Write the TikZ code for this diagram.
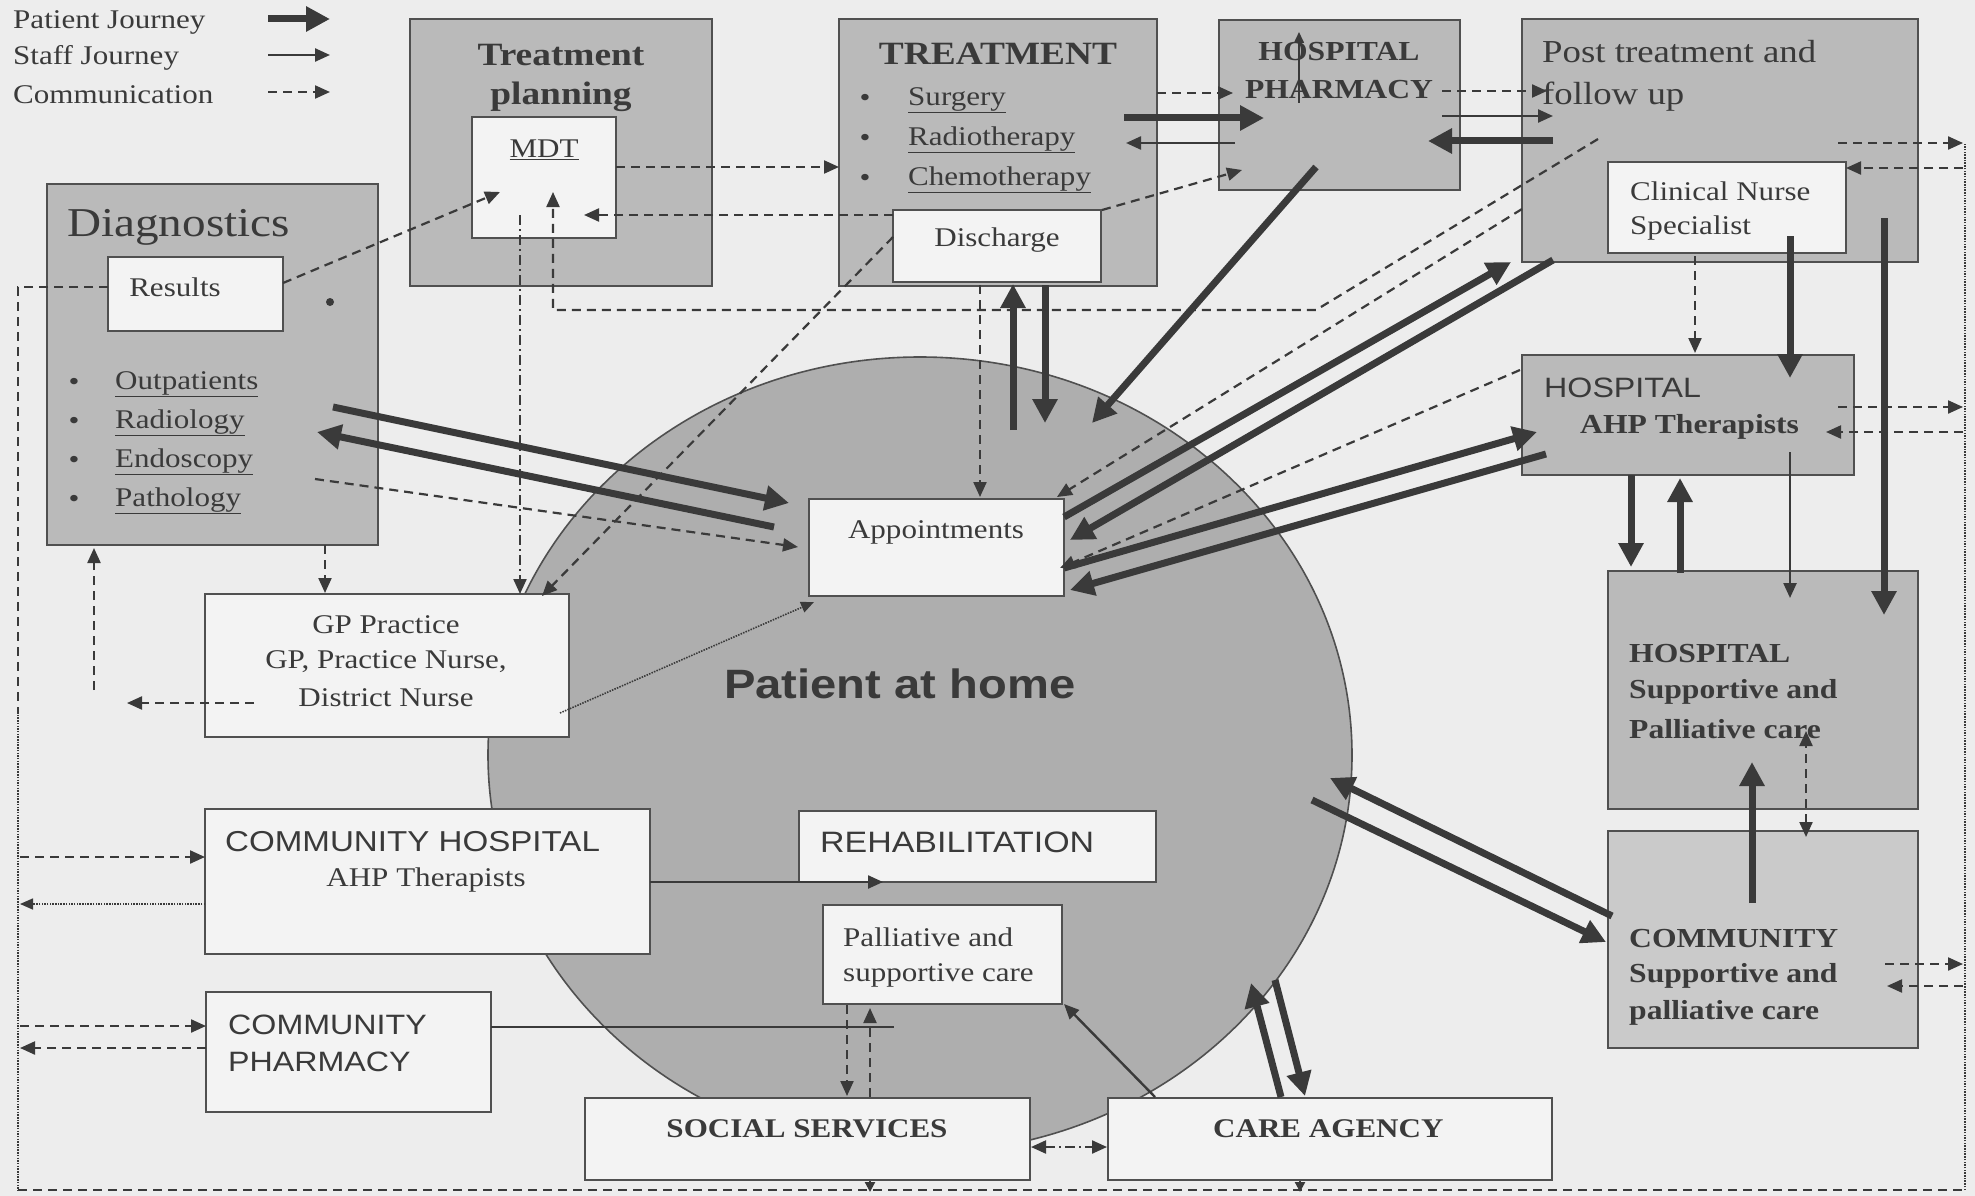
\documentclass[tikz,border=0pt]{standalone}
\usepackage{fontspec}
\setmainfont{Liberation Serif}[FakeStretch=1.15]
\setsansfont{Liberation Sans}[FakeStretch=1.15]
\usetikzlibrary{arrows.meta,shapes.geometric}
\definecolor{paper}{RGB}{237,237,237}
\definecolor{boxgray}{RGB}{186,186,186}
\definecolor{boxlight}{RGB}{202,202,202}
\definecolor{boxwhite}{RGB}{243,243,243}
\definecolor{homegray}{RGB}{174,174,174}
\definecolor{ink}{RGB}{58,58,58}
\definecolor{edge}{RGB}{80,80,80}
\newcommand\setfs[1]{\fontsize{#1}{#1}\selectfont}
\begin{document}
\begin{tikzpicture}[x=1pt,y=-1pt,
  bx/.style={draw=edge, line width=2pt, inner sep=0, outer sep=0, anchor=north west},
  gbx/.style={bx, fill=boxgray},
  lbx/.style={bx, fill=boxlight},
  wbx/.style={bx, fill=boxwhite},
  txt/.style={inner sep=0, text=ink, font=\setfs{27}},
  lt/.style={txt, anchor=west},
  pjrny/.style={draw=ink, line width=7pt, -{Triangle[length=24pt,width=24pt]}},
  sjrny/.style={draw=ink, line width=2.4pt, -{Triangle[length=15pt,width=13pt]}},
  sline/.style={draw=ink, line width=2.4pt},
  comm/.style={draw=ink, line width=2.2pt, dash pattern=on 9pt off 6pt, -{Triangle[length=15pt,width=13pt]}},
  commline/.style={draw=ink, line width=2.2pt, dash pattern=on 9pt off 6pt},
  commboth/.style={comm, {Triangle[length=15pt,width=13pt]}-{Triangle[length=15pt,width=13pt]}},
  commdd/.style={comm, dash pattern=on 10pt off 4pt on 2pt off 4pt},
  commddboth/.style={commboth, dash pattern=on 10pt off 4pt on 2pt off 4pt},
  dotarr/.style={draw=ink, line width=1.6pt, dash pattern=on 1.5pt off 1.2pt, -{Triangle[length=13pt,width=11pt]}},
  dotline/.style={draw=ink, line width=1.6pt, dash pattern=on 1.5pt off 1.2pt}]

% page
\fill[paper] (0,0) rectangle (1975,1196);
\useasboundingbox (0,0) rectangle (1975,1196);

% patient at home
\node[ellipse, draw=edge, line width=1.6pt, fill=homegray, minimum width=864pt,
      minimum height=796pt, inner sep=0, outer sep=0] (home) at (920,755) {};

% boxes
\node[gbx, minimum width=302pt, minimum height=267pt] (tp)   at (410,19) {};
\node[wbx, minimum width=144pt, minimum height=121pt] (mdt)  at (472,117) {};
\node[gbx, minimum width=318pt, minimum height=267pt] (tr)   at (839,19) {};
\node[wbx, minimum width=208pt, minimum height=72pt]  (dis)  at (893,210) {};
\node[gbx, minimum width=241pt, minimum height=170pt] (ph)   at (1219,20) {};
\node[gbx, minimum width=396pt, minimum height=243pt] (pt)   at (1522,19) {};
\node[wbx, minimum width=238pt, minimum height=91pt]  (cns)  at (1608,162) {};
\node[gbx, minimum width=331pt, minimum height=361pt] (diag) at (47,184) {};
\node[wbx, minimum width=175pt, minimum height=74pt]  (res)  at (108,257) {};
\node[wbx, minimum width=364pt, minimum height=143pt] (gp)   at (205,594) {};
\node[gbx, minimum width=332pt, minimum height=120pt] (ahp)  at (1522,355) {};
\node[gbx, minimum width=310pt, minimum height=238pt] (hsp)  at (1608,571) {};
\node[lbx, minimum width=310pt, minimum height=217pt] (csp)  at (1608,831) {};
\node[wbx, minimum width=255pt, minimum height=97pt]  (app)  at (809,499) {};
\node[wbx, minimum width=445pt, minimum height=145pt] (ch)   at (205,809) {};
\node[wbx, minimum width=285pt, minimum height=120pt] (cph)  at (206,992) {};
\node[wbx, minimum width=357pt, minimum height=71pt]  (reh)  at (799,811) {};
\node[wbx, minimum width=239pt, minimum height=99pt]  (pal)  at (823,905) {};
\node[wbx, minimum width=445pt, minimum height=82pt]  (ss)   at (585,1098) {};
\node[wbx, minimum width=444pt, minimum height=82pt]  (ca)   at (1108,1098) {};

% legend
\node[lt] (lgA) at (13,22) {Patient Journey};
\node[lt] (lgB) at (13,58) {Staff Journey};
\node[lt] (lgC) at (13,95) {Communication};
\coordinate (lg1a) at (268,19);  \coordinate (lg1b) at (330,19);
\coordinate (lg2a) at (268,55);  \coordinate (lg2b) at (330,55);
\coordinate (lg3a) at (268,92);  \coordinate (lg3b) at (330,92);

% texts
\node[txt, font=\setfs{32.5}\bfseries] (tpA) at (561,55) {Treatment};
\node[txt, font=\setfs{32.5}\bfseries] (tpB) at (561,97) {planning};
\node[txt] (mdtT) at (544,150) {\underline{MDT}};
\node[txt, font=\setfs{32.5}\bfseries] (trT) at (998,54) {TREATMENT};
\node[txt] (trD1) at (865,100) {\textbullet};
\node[txt] (trD2) at (865,140) {\textbullet};
\node[txt] (trD3) at (865,180) {\textbullet};
\node[lt] (trL1) at (908,100) {\underline{Surgery}};
\node[lt] (trL2) at (908,140) {\underline{Radiotherapy}};
\node[lt] (trL3) at (908,180) {\underline{Chemotherapy}};
\node[txt] (disT) at (997,240) {Discharge};
\node[txt, font=\setfs{27.5}\bfseries] (phA) at (1339,52) {HOSPITAL};
\node[txt, font=\setfs{27.5}\bfseries] (phB) at (1339,90) {PHARMACY};
\node[lt, font=\setfs{32}] (ptA) at (1542,52) {Post treatment and};
\node[lt, font=\setfs{32}] (ptB) at (1542,97) {follow up};
\node[lt] (cnsA) at (1630,191) {Clinical Nurse};
\node[lt] (cnsB) at (1630,228) {Specialist};
\node[lt, font=\setfs{41}] (diagT) at (67,227) {Diagnostics};
\node[txt] (resT) at (175,287) {Results};
\foreach \yy/\ww/\nm in {384/Outpatients/dgA, 423/Radiology/dgB, 462/Endoscopy/dgC, 501/Pathology/dgD}{
  \node[txt] (\nm b) at (74,\yy) {\textbullet};
  \node[lt] (\nm) at (115,\yy) {\underline{\ww}};
}
\node[txt] (gpA) at (386,625) {GP Practice};
\node[txt] (gpB) at (386,662) {GP, Practice Nurse,};
\node[txt] (gpC) at (386,698) {District Nurse};
\node[txt] (appT) at (936,532) {Appointments};
\node[lt, font=\setfs{41}\sffamily\bfseries] (homeT) at (724,684) {Patient at home};
\node[lt, font=\setfs{28}\sffamily] (ahpA) at (1544,388) {HOSPITAL};
\node[lt, font=\setfs{27.5}\bfseries] (ahpB) at (1580,427) {AHP Therapists};
\node[lt, font=\setfs{27.5}\bfseries] (hspA) at (1629,654) {HOSPITAL};
\node[lt, font=\setfs{27.5}\bfseries] (hspB) at (1629,692) {Supportive and};
\node[lt, font=\setfs{27.5}\bfseries] (hspC) at (1629,729) {Palliative care};
\node[lt, font=\setfs{27.5}\bfseries] (cspA) at (1629,939) {COMMUNITY};
\node[lt, font=\setfs{27.5}\bfseries] (cspB) at (1629,976) {Supportive and};
\node[lt, font=\setfs{27.5}\bfseries] (cspC) at (1629,1013) {palliative care};
\node[lt, font=\setfs{28.8}\sffamily] (chA) at (225,842) {COMMUNITY HOSPITAL};
\node[txt] (chB) at (426,880) {AHP Therapists};
\node[lt, font=\setfs{28}\sffamily] (cphA) at (228,1025) {COMMUNITY};
\node[lt, font=\setfs{28}\sffamily] (cphB) at (228,1062) {PHARMACY};
\node[lt, font=\setfs{29.5}\sffamily] (rehT) at (820,842) {REHABILITATION};
\node[lt] (palA) at (843,937) {Palliative and};
\node[lt] (palB) at (843,975) {supportive care};
\node[txt, font=\setfs{27}\bfseries] (ssT) at (807,1129) {SOCIAL SERVICES};
\node[lt, font=\setfs{27}\bfseries] (caT) at (1213,1129) {CARE AGENCY};
\fill[ink] (330,302) circle (4pt);

% ---------- connector end points ----------
% patient journey
\coordinate (p1a) at (333,407);  \coordinate (p1b) at (789,503);
\coordinate (p2a) at (774,527);  \coordinate (p2b) at (317,432);
\coordinate (p3a) at (1013,430); \coordinate (p3b) at (1013,284);
\coordinate (p4a) at (1045,285); \coordinate (p4b) at (1045,423);
\coordinate (p5a) at (1316,167); \coordinate (p5b) at (1092,423);
\coordinate (p6a) at (1064,517); \coordinate (p6b) at (1511,262);
\coordinate (p7a) at (1553,260); \coordinate (p7b) at (1070,540);
\coordinate (p8a) at (1064,568); \coordinate (p8b) at (1537,432);
\coordinate (p9a) at (1546,454); \coordinate (p9b) at (1070,590);
\coordinate (p10a) at (1124,118); \coordinate (p10b) at (1264,118);
\coordinate (p11a) at (1553,141); \coordinate (p11b) at (1428,141);
\coordinate (p12a) at (1790,236); \coordinate (p12b) at (1790,378);
\coordinate (p13a) at (1884,218); \coordinate (p13b) at (1884,615);
\coordinate (p14a) at (1631,475); \coordinate (p14b) at (1631,567);
\coordinate (p15a) at (1680,573); \coordinate (p15b) at (1680,478);
\coordinate (p16a) at (1752,903); \coordinate (p16b) at (1752,762);
\coordinate (p17a) at (1312,800); \coordinate (p17b) at (1606,942);
\coordinate (p18a) at (1612,916); \coordinate (p18b) at (1330,778);
\coordinate (p19a) at (1281,1097); \coordinate (p19b) at (1251,983);
\coordinate (p20a) at (1275,980); \coordinate (p20b) at (1305,1096);
% staff journey
\coordinate (s1a) at (1235,143); \coordinate (s1b) at (1126,143);
\coordinate (s2a) at (1442,116); \coordinate (s2b) at (1553,116);
\coordinate (s3a) at (1790,452); \coordinate (s3b) at (1790,598);
\coordinate (s4a) at (1155,1097); \coordinate (s4b) at (1064,1004);
\coordinate (s5a) at (650,882);  \coordinate (s5b) at (883,882);
\coordinate (s6a) at (491,1027); \coordinate (s6b) at (894,1027);
\coordinate (s7a) at (1299,103); \coordinate (s7b) at (1299,32);
% communication
\coordinate (c1a) at (283,283);  \coordinate (c1b) at (500,192);
\coordinate (c2a) at (616,167);  \coordinate (c2b) at (839,167);
\coordinate (c3a) at (893,215);  \coordinate (c3b) at (584,215);
\coordinate (c4a) at (1598,139); \coordinate (c4k) at (1316,310);
\coordinate (c4l) at (553,310);  \coordinate (c4b) at (553,192);
\coordinate (c5a) at (520,215);  \coordinate (c5b) at (520,594);
\coordinate (c6a) at (893,237);  \coordinate (c6b) at (542,596);
\coordinate (c7a) at (1102,210); \coordinate (c7b) at (1242,170);
\coordinate (c8a) at (1157,93);  \coordinate (c8b) at (1233,93);
\coordinate (c9a) at (1442,91);  \coordinate (c9b) at (1547,91);
\coordinate (c10a) at (315,479); \coordinate (c10b) at (798,547);
\coordinate (c11a) at (980,285); \coordinate (c11b) at (980,497);
\coordinate (c12a) at (1522,209); \coordinate (c12b) at (1057,497);
\coordinate (c13a) at (1520,370); \coordinate (c13b) at (1060,568);
\coordinate (c14a) at (1695,256); \coordinate (c14b) at (1695,353);
\coordinate (c15a) at (325,545);  \coordinate (c15b) at (325,593);
\coordinate (c16a) at (254,703);  \coordinate (c16b) at (127,703);
\coordinate (c17a) at (94,690);   \coordinate (c17b) at (94,548);
\coordinate (c18a) at (1806,837); \coordinate (c18b) at (1806,731);
\coordinate (c19a) at (1838,143); \coordinate (c19b) at (1963,143);
\coordinate (c20a) at (1963,168); \coordinate (c20b) at (1846,168);
\coordinate (c21a) at (1838,407); \coordinate (c21b) at (1963,407);
\coordinate (c22a) at (1963,432); \coordinate (c22b) at (1826,432);
\coordinate (c23a) at (1885,964); \coordinate (c23b) at (1963,964);
\coordinate (c24a) at (1963,986); \coordinate (c24b) at (1887,986);
\coordinate (c25a) at (20,857);   \coordinate (c25b) at (205,857);
\coordinate (c26a) at (205,904);  \coordinate (c26b) at (20,904);
\coordinate (c27a) at (20,1026);  \coordinate (c27b) at (206,1026);
\coordinate (c28a) at (206,1048); \coordinate (c28b) at (20,1048);
\coordinate (c29a) at (847,1005); \coordinate (c29b) at (847,1096);
\coordinate (c30a) at (870,1097); \coordinate (c30b) at (870,1008);
\coordinate (c31a) at (1031,1147); \coordinate (c31b) at (1107,1147);
\coordinate (c32a) at (870,1181); \coordinate (c32b) at (870,1192);
\coordinate (c33a) at (1300,1181); \coordinate (c33b) at (1300,1192);
\coordinate (c34a) at (560,713);  \coordinate (c34b) at (814,602);
% outer loop
\coordinate (fr1) at (108,287); \coordinate (fr2) at (18,287);
\coordinate (fr3) at (18,712);  \coordinate (fr4) at (18,1190);
\coordinate (fr5) at (1965,1190); \coordinate (fr6) at (1965,143);

% ---------- connectors ----------
\draw[pjrny] (lg1a) -- (lg1b);
\draw[sjrny] (lg2a) -- (lg2b);
\draw[comm] (lg3a) -- (lg3b);

\foreach \k in {1,...,20}{\draw[pjrny] (p\k a) -- (p\k b);}

\foreach \k in {1,2,3,4,5}{\draw[sjrny] (s\k a) -- (s\k b);}
\draw[sline] (s6a) -- (s6b);
\draw[draw=ink, line width=1.5pt, -{Triangle[length=11pt,width=10pt]}] (s7a) -- (s7b);

\draw[comm] (c1a) -- (c1b);
\draw[comm] (c2a) -- (c2b);
\draw[comm] (c3a) -- (c3b);
\draw[comm] (c4a) -- (c4k) -- (c4l) -- (c4b);
\draw[commdd] (c5a) -- (c5b);
\draw[comm] (c6a) -- (c6b);
\draw[comm] (c7a) -- (c7b);
\foreach \k in {8,...,17}{\draw[comm] (c\k a) -- (c\k b);}
\draw[commboth] (c18a) -- (c18b);
\foreach \k in {19,...,25}{\draw[comm] (c\k a) -- (c\k b);}
\draw[dotarr] (c26a) -- (c26b);
\foreach \k in {27,...,30}{\draw[comm] (c\k a) -- (c\k b);}
\draw[commddboth] (c31a) -- (c31b);
\draw[comm, -{Triangle[length=10pt,width=10pt]}] (c32a) -- (c32b);
\draw[comm, -{Triangle[length=10pt,width=10pt]}] (c33a) -- (c33b);
\draw[dotarr] (c34a) -- (c34b);

\draw[commline] (fr1) -- (fr2) -- (fr3);
\draw[dotline] (fr3) -- (fr4);
\draw[commline] (fr4) -- (fr5);
\draw[dotline] (fr5) -- (fr6);
\end{tikzpicture}
\end{document}
